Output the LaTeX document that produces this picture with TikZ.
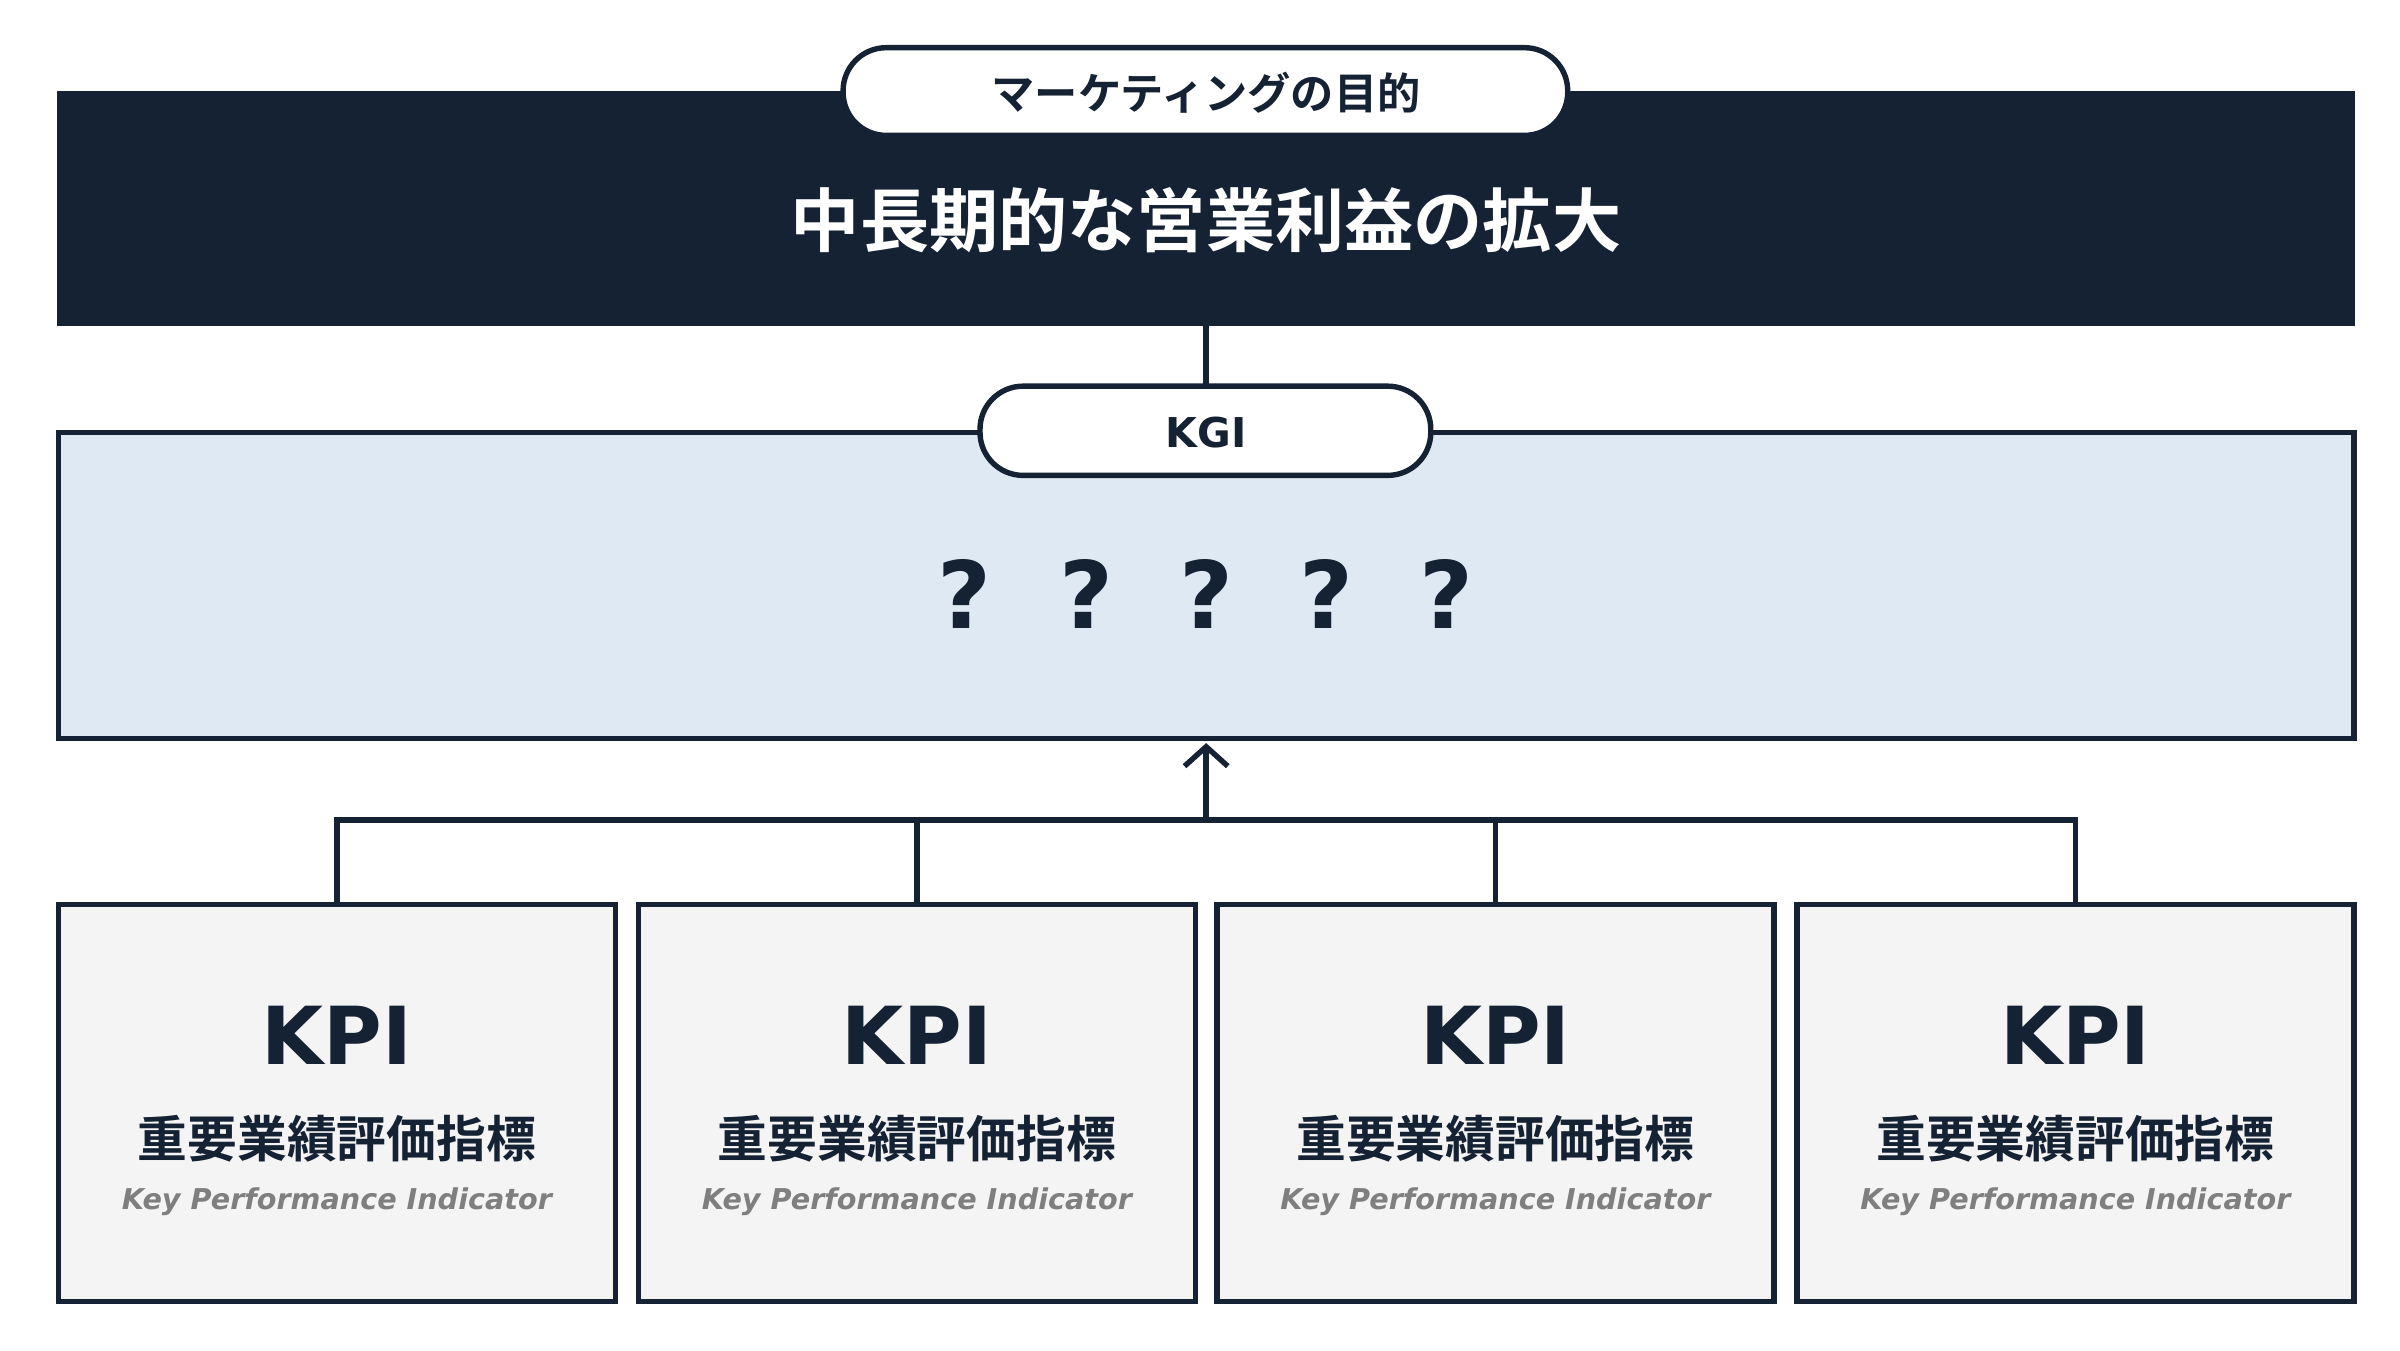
\documentclass[tikz,border=0pt]{standalone}
\usepackage{fontspec}
\usetikzlibrary{arrows.meta}
\newfontfamily\cjk{Noto Sans CJK JP}[BoldFont={* Bold}]
\newfontfamily\djv{DejaVu Sans}
\definecolor{navy}{HTML}{142233}
\definecolor{kgi}{HTML}{DFE9F4}
\definecolor{kpi}{HTML}{F4F4F4}
\definecolor{gry}{HTML}{7F7F7F}
\begin{document}
\begin{tikzpicture}[x=0.05cm,y=-0.05cm,
  bd/.style={draw=navy,line width=5pt},
  pill/.style={bd,fill=white,rounded corners=28*0.05cm,inner sep=0pt},
  ln/.style={navy,line width=5pt},
  kbox/.style={bd,fill=kpi,inner sep=0pt}]
\useasboundingbox (0,0) rectangle (1560,877.5);
\fill[white] (0,0) rectangle (1560,877.5);
% top
\path[fill=navy] (37,59) rectangle (1531,212);
\node[text=white,font=\cjk\bfseries\fontsize{64}{70}\selectfont] (goal) at (784,143) {中長期的な営業利益の拡大};
\path[pill] (548,31) rectangle (1019,88);
\node[text=navy,font=\cjk\bfseries\fontsize{40}{45}\selectfont] (p1) at (784,60) {マーケティングの目的};
% KGI
\coordinate (gb) at (784,212);
\coordinate (kt) at (784,251);
\draw[ln] (gb) -- (kt);
\path[bd,fill=kgi] (38,281) rectangle (1530,480);
\path[pill] (637,251) rectangle (930,309);
\node[text=navy,font=\djv\bfseries\fontsize{38}{44}\selectfont] (kgi) at (784,281) {KGI};
\foreach \x/\n in {627/a,706/b,784/c,862/d,940/e}
  \node[text=navy,font=\djv\bfseries\fontsize{86}{90}\selectfont] (q\n) at (\x,386) {?};
% connectors
\coordinate (ar) at (784,483);
\coordinate (hub) at (784,533);
\draw[ln,-{Straight Barb[length=18pt,width=40pt,line width=5pt]}] (hub) -- (ar);
\draw[ln,line cap=rect] (219,533) -- (1349,533);
\foreach \x/\n in {219/1,596/2,972/3,1349/4}{
  \path[kbox] (\x-181,588) rectangle (\x+181,846);
  \node[text=navy,font=\djv\bfseries\fontsize{74}{80}\selectfont] (k\n) at (\x,673) {KPI};
  \node[text=navy,font=\cjk\bfseries\fontsize{46}{50}\selectfont] (j\n) at (\x,740) {重要業績評価指標};
  \node[text=gry,font=\djv\bfseries\itshape\fontsize{26.5}{30}\selectfont] (e\n) at (\x,781) {Key Performance Indicator};
  \draw[ln] (\x,533) -- (\x,588);
}
\end{tikzpicture}
\end{document}
